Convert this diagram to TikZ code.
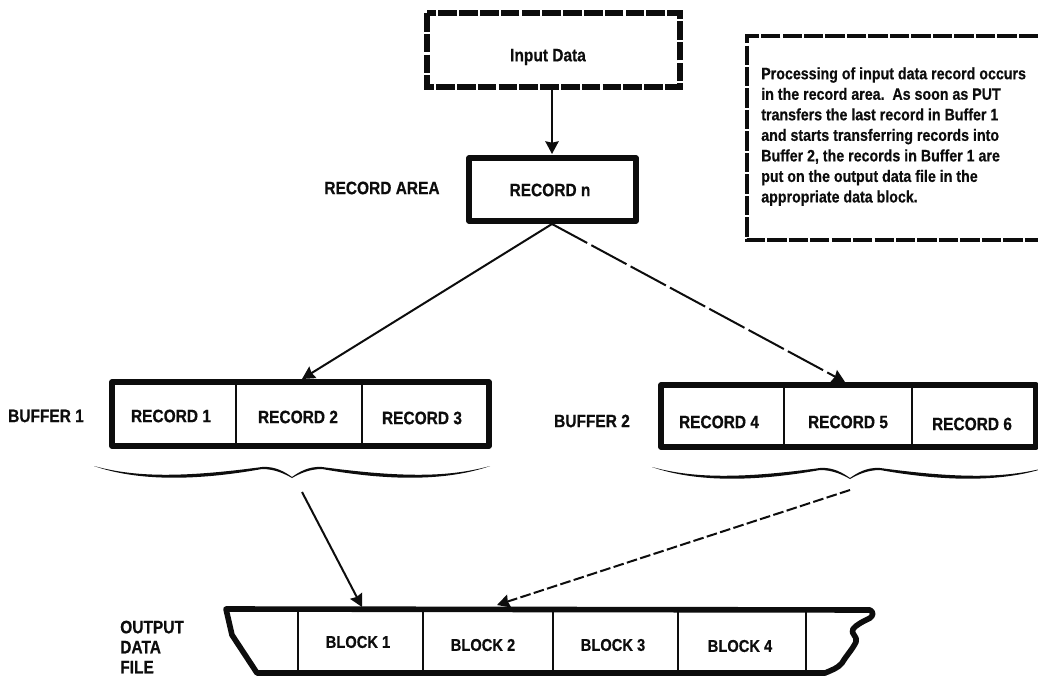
\documentclass[tikz,border=0pt]{standalone}
\usepackage{fontspec}
\setmainfont[FakeStretch=0.86,FakeBold=0.5]{Liberation Sans Bold}
\usetikzlibrary{arrows.meta}
\definecolor{ink}{gray}{0.05}
\tikzset{
  x=0.75pt,y=-0.75pt,
  thickbox/.style={draw=ink,line width=4.2pt,line join=round},
  dashbox/.style={draw=ink,line width=3.8pt,dash pattern=on 14pt off 1.6pt},
  notebox/.style={draw=ink,line width=2.8pt,dash pattern=on 14.5pt off 1.6pt},
  cell/.style={draw=ink,line width=0.8pt},
  lbl/.style={font=\fontsize{13.5pt}{15pt}\selectfont,text=ink,inner sep=0pt},
  blk/.style={lbl,font=\fontsize{12.8pt}{15pt}\selectfont},
  conn/.style={draw=ink,line width=1.5pt,-{Stealth[length=9.5pt,width=10pt,inset=1pt]}},
  dconn/.style={conn,dash pattern=on 30pt off 3.5pt},
  dconnb/.style={conn,dash pattern=on 8pt off 2.5pt}
}
\newcommand{\halfbrace}{\fill[ink] (-198,-11) .. controls (-158,0) and (-112,1) .. (-30,-10) .. controls (-17,-11) and (-7,-5) .. (0,0) -- (0,1) .. controls (-7,-3) and (-17,-8) .. (-30,-8) .. controls (-102,5) and (-158,3) .. (-198,-11) -- cycle;}
\begin{document}
\begin{tikzpicture}
\useasboundingbox (0,0) rectangle (1038,677);
% input
\draw[dashbox] (427,13) rectangle (680,87);
\node[lbl] (inp) at (548,57) {Input Data};
\coordinate (inpb) at (552,89);
% record area
\draw[thickbox] (469,158) rectangle (636,221);
\node[lbl] (recn) at (550,190) {RECORD n};
\node[lbl] (reca) at (382,188) {RECORD AREA};
\coordinate (rect) at (552,154);
\coordinate (recb) at (552,224);
% note
\draw[notebox] (1038,36) -- (747,36) -- (747,240) -- (1038,240);
\node[lbl,anchor=north west,align=left,font=\fontsize{12.4pt}{15.4pt}\selectfont] (note) at (761,67) {Processing of input data record occurs\\in the record area.\ \ As soon as PUT\\transfers the last record in Buffer 1\\and starts transferring records into\\Buffer 2, the records in Buffer 1 are\\put on the output data file in the\\appropriate data block.};
% buffer 1
\draw[thickbox] (112,382) rectangle (489,446);
\draw[cell] (236,382) -- (236,446) (362,382) -- (362,446);
\node[lbl] (r1) at (171,416) {RECORD 1};
\node[lbl] (r2) at (298,417) {RECORD 2};
\node[lbl] (r3) at (422,418) {RECORD 3};
\node[lbl] (b1) at (46,416) {BUFFER 1};
\coordinate (b1t) at (302,379);
% buffer 2
\draw[thickbox] (661,385) rectangle (1036,447);
\draw[cell] (784,385) -- (784,447) (912,385) -- (912,447);
\node[lbl] (r4) at (719,422) {RECORD 4};
\node[lbl] (r5) at (848,422) {RECORD 5};
\node[lbl] (r6) at (972,424) {RECORD 6};
\node[lbl] (b2) at (592,421) {BUFFER 2};
\coordinate (b2t) at (845,382);
% braces
\begin{scope}[shift={(292,477)}]\halfbrace\end{scope}
\begin{scope}[shift={(292,477)},xscale=-1]\halfbrace\end{scope}
\begin{scope}[shift={(850,478)}]\halfbrace\end{scope}
\begin{scope}[shift={(850,478)},xscale=-1]\halfbrace\end{scope}
\coordinate (br1) at (302,492);
\coordinate (br2) at (850,490);
% output file
\draw[thickbox] (226,609) -- (870,610) .. controls (874,612) and (873,616) .. (870,618) .. controls (862,622) and (856,625) .. (853,629) .. controls (850,634) and (858,636) .. (856,642) .. controls (852,650) and (846,656) .. (842,663) .. controls (838,668) and (832,670) .. (825,673) -- (257,673) -- (232,635) -- cycle;
\draw[cell] (298,609) -- (298,673) (423,609) -- (423,673) (553,609) -- (553,673) (678,610) -- (678,673) (806,610) -- (806,673);
\node[blk] (k1) at (358,642) {BLOCK 1};
\node[blk] (k2) at (483,645) {BLOCK 2};
\node[blk] (k3) at (613,645) {BLOCK 3};
\node[blk] (k4) at (740,646) {BLOCK 4};
\node[lbl,align=left,anchor=west,font=\fontsize{13.5pt}{15pt}\selectfont] (odf) at (120,647) {OUTPUT\\DATA\\FILE};
\coordinate (ft1) at (362,607);
\coordinate (ft2) at (497,605);
% connectors
\draw[conn] (inpb) -- (rect);
\draw[conn] (recb) -- (b1t);
\draw[dconn] (recb) -- (b2t);
\draw[conn] (br1) -- (ft1);
\draw[dconnb] (br2) -- (ft2);
\end{tikzpicture}
\end{document}
